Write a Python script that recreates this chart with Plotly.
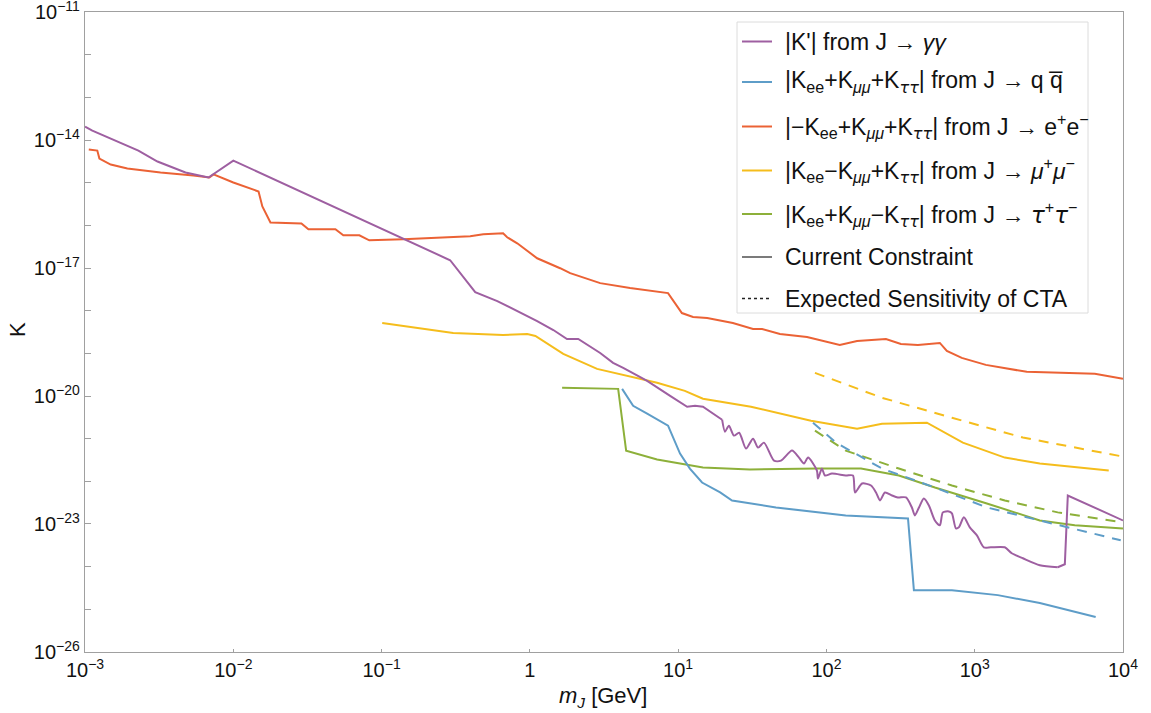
import plotly.graph_objects as go

# ---------------- data ----------------
# |K'| from J -> gamma gamma (current constraint)
gg_m = [1.0e-3, 1.12e-3, 2.29e-3, 3.08e-3, 4.76e-3, 6.80e-3, 1.0e-2, 0.290, 0.428, 0.603,
        1.12, 1.44, 1.78, 2.12, 2.98, 3.64, 4.26, 6.18, 8.83, 11.5, 13.0, 14.7, 19.8, 20.7,
        22.0, 23.8, 25.8, 28.7, 32.0, 34.6, 37.9, 44.3, 49.4, 58.6, 65.3, 70.6, 75.2, 86.3,
        87.7, 93.3, 97.8, 109, 135, 151, 156, 174, 200, 216, 230, 248, 277, 303, 344, 377,
        395, 421, 454, 491, 539, 582, 610, 670, 702, 747, 782, 845, 927, 1035, 1153, 1285,
        1596, 1778, 2113, 2748, 3631, 4055, 4246, 1.0e4]
gg_K = [2.06e-14, 1.66e-14, 5.65e-15, 3.13e-15, 1.73e-15, 1.32e-15, 3.30e-15, 1.52e-17, 2.72e-18, 1.68e-18,
        5.71e-19, 3.52e-19, 2.17e-19, 2.17e-19, 1.02e-19, 5.97e-20, 4.56e-20, 2.27e-20, 1.01e-20, 5.60e-21,
        5.90e-21, 5.60e-21, 2.78e-21, 1.46e-21, 2.01e-21, 1.18e-21, 1.38e-21, 5.85e-22, 1.0e-21, 6.17e-22,
        8.07e-22, 3.06e-22, 3.06e-22, 5.25e-22, 3.60e-22, 2.61e-22, 3.60e-22, 1.79e-22, 1.16e-22, 1.99e-22,
        1.37e-22, 1.52e-22, 1.37e-22, 1.37e-22, 5.48e-23, 8.89e-23, 7.98e-23, 5.48e-23, 3.56e-23, 5.48e-23,
        4.66e-23, 4.19e-23, 4.19e-23, 2.44e-23, 1.59e-23, 2.44e-23, 3.96e-23, 2.72e-23, 1.21e-23, 9.29e-24,
        1.87e-23, 1.97e-23, 1.77e-23, 7.89e-24, 8.33e-24, 1.43e-23, 8.33e-24, 5.42e-24, 2.84e-24, 2.84e-24,
        2.84e-24, 2.06e-24, 1.57e-24, 1.08e-24, 9.69e-25, 1.14e-24, 4.66e-23, 1.21e-23]

# |Kee+Kmumu+Ktautau| from J -> q qbar
qq_m = [4.19, 4.97, 6.18, 8.55, 10.3, 12.0, 14.5, 19.2, 23.1, 45.7, 135, 355, 389, 702, 1432, 2748, 6546]
qq_K = [1.47e-20, 5.90e-21, 3.84e-21, 2.01e-21, 4.47e-22, 1.99e-22, 9.37e-23, 5.48e-23, 3.56e-23,
        2.44e-23, 1.59e-23, 1.35e-23, 2.81e-25, 2.81e-25, 2.15e-25, 1.40e-25, 6.58e-26]
qq_cta_m = [81.2, 116, 237, 539, 1208, 2748, 9660]
qq_cta_K = [2.37e-21, 8.07e-22, 1.99e-22, 7.16e-23, 2.44e-23, 1.21e-23, 4.14e-24]

# |-Kee+Kmumu+Ktautau| from J -> e+ e-
ee_m = [1.06e-3, 1.21e-3, 1.25e-3, 1.49e-3, 1.93e-3, 3.23e-3, 5.38e-3, 6.90e-3, 7.35e-3, 1.0e-2,
        1.48e-2, 1.57e-2, 1.78e-2, 2.88e-2, 3.21e-2, 4.88e-2, 5.52e-2, 7.08e-2, 8.26e-2, 0.140,
        0.396, 0.485, 0.660, 0.703, 0.822, 1.12, 1.60, 1.87, 2.98, 4.74, 8.55, 10.6, 12.6, 15.7,
        23.4, 32.0, 36.8, 48.6, 74.0, 94.8, 123, 161, 206, 252, 318, 414, 582, 649, 818, 1189,
        2244, 3412, 6457, 1.0e4]
ee_K = [5.97e-15, 5.65e-15, 3.68e-15, 2.66e-15, 2.15e-15, 1.73e-15, 1.47e-15, 1.32e-15, 1.56e-15, 1.01e-15,
        6.22e-16, 2.78e-16, 1.17e-16, 1.11e-16, 8.07e-17, 8.07e-17, 5.84e-17, 5.84e-17, 4.46e-17, 4.71e-17,
        5.53e-17, 6.17e-17, 6.50e-17, 5.25e-17, 3.80e-17, 1.69e-17, 9.89e-18, 7.56e-18, 4.42e-18, 3.38e-18,
        2.58e-18, 8.79e-19, 7.09e-19, 6.72e-19, 5.13e-19, 3.72e-19, 3.72e-19, 2.84e-19, 2.42e-19, 1.95e-19,
        1.57e-19, 1.95e-19, 2.06e-19, 2.17e-19, 1.66e-19, 1.57e-19, 1.75e-19, 1.14e-19, 7.82e-20, 5.36e-20,
        3.68e-20, 3.48e-20, 3.30e-20, 2.52e-20]

# |Kee-Kmumu+Ktautau| from J -> mu+ mu-
mm_m = [0.101, 0.140, 0.304, 0.660, 0.96, 1.09, 1.68, 2.84, 4.74, 7.21, 11.1, 14.7, 31.0, 78.7,
        161, 237, 476, 832, 1596, 2748, 8017]
mm_K = [5.13e-19, 4.37e-19, 3.00e-19, 2.69e-19, 2.84e-19, 2.55e-19, 9.68e-20, 4.32e-20, 2.81e-20,
        2.04e-20, 1.32e-20, 8.61e-21, 5.60e-21, 2.64e-21, 1.71e-21, 2.24e-21, 2.37e-21, 8.07e-22,
        3.60e-22, 2.61e-22, 1.79e-22]
mm_cta_m = [83.7, 237, 702, 2113, 1.0e4]
mm_cta_K = [3.48e-20, 9.08e-21, 3.10e-21, 1.06e-21, 3.80e-22]

# |Kee+Kmumu-Ktautau| from J -> tau+ tau-
tt_m = [1.65, 3.94, 4.46, 7.21, 14.7, 30.5, 87.7, 171, 308, 539, 1208, 2748, 4732, 1.0e4]
tt_K = [1.56e-20, 1.47e-20, 5.25e-22, 3.24e-22, 2.10e-22, 1.89e-22, 1.99e-22, 1.99e-22, 1.37e-22,
        7.16e-23, 3.03e-23, 1.21e-23, 9.29e-24, 7.89e-24]
tt_cta_m = [83.7, 135, 308, 702, 1596, 3631, 1.0e4]
tt_cta_K = [1.54e-21, 5.25e-22, 1.99e-22, 7.98e-23, 3.56e-23, 1.87e-23, 1.09e-23]

x_tickvals = [1e-3, 1e-2, 1e-1, 1, 1e1, 1e2, 1e3, 1e4]
x_ticktext = ["10<sup>\u22123</sup>", "10<sup>\u22122</sup>", "10<sup>\u22121</sup>", "1",
              "10<sup>1</sup>", "10<sup>2</sup>", "10<sup>3</sup>", "10<sup>4</sup>"]
y_tickvals = [1e-26, 1e-23, 1e-20, 1e-17, 1e-14, 1e-11]
y_ticktext = ["10<sup>\u221226</sup>", "10<sup>\u221223</sup>", "10<sup>\u221220</sup>",
              "10<sup>\u221217</sup>", "10<sup>\u221214</sup>", "10<sup>\u221211</sup>"]
y_minorvals = [1e-25, 1e-24, 1e-22, 1e-21, 1e-19, 1e-18, 1e-16, 1e-15, 1e-13, 1e-12]

TAU = "<span style=\"font-family:'DejaVu Sans'\"><i>\u03c4\u03c4</i></span>"
TAU1 = "<span style=\"font-family:'DejaVu Sans'\"><i>\u03c4</i></span>"
legend_labels = [
    "|K'| from J \u2192 <i>\u03b3\u03b3</i>",
    "|K<sub>ee</sub>+K<sub><i>\u03bc\u03bc</i></sub>+K<sub>" + TAU + "</sub>| from J \u2192 q q\u0305",
    "|\u2212K<sub>ee</sub>+K<sub><i>\u03bc\u03bc</i></sub>+K<sub>" + TAU + "</sub>| from J \u2192 e<sup>+</sup>e<sup>\u2212</sup>",
    "|K<sub>ee</sub>\u2212K<sub><i>\u03bc\u03bc</i></sub>+K<sub>" + TAU + "</sub>| from J \u2192 <i>\u03bc</i><sup>+</sup><i>\u03bc</i><sup>\u2212</sup>",
    "|K<sub>ee</sub>+K<sub><i>\u03bc\u03bc</i></sub>\u2212K<sub>" + TAU + "</sub>| from J \u2192 " + TAU1 + "<sup>+</sup>" + TAU1 + "<sup>\u2212</sup>",
    "Current Constraint",
    "Expected Sensitivity of CTA",
]

# ---------------- styles ----------------
PURPLE = "#9E5FA1"
BLUE = "#5E9DC8"
RED = "#EB6235"
YELLOW = "#F5BD1C"
GREEN = "#8DB03A"
FONT = "Liberation Sans, Arial, sans-serif"
AXC = "#a0a0a0"

W, H = 1151, 713
L, R, T, B = 85, 28, 12, 61
PW, PH = W - L - R, H - T - B


def px(xp):
    return (xp - L) / PW


def py(yp):
    return (H - B - yp) / PH


fig = go.Figure()


def add(m, k, color, dash=None, shape="linear"):
    line = dict(color=color, width=2, shape=shape)
    if shape == "spline":
        line["smoothing"] = 0.7
    if dash:
        line["dash"] = dash
    fig.add_trace(go.Scatter(x=m, y=k, mode="lines", line=line, showlegend=False,
                             hoverinfo="skip"))


add(ee_m, ee_K, RED)
add(mm_m, mm_K, YELLOW)
add(tt_m, tt_K, GREEN)
add(qq_m, qq_K, BLUE)
# the photon curve: straight segments, a smooth oscillating middle part, straight tail
i0 = gg_m.index(19.8)
i1 = gg_m.index(3631)
add(gg_m[:i0 + 1], gg_K[:i0 + 1], PURPLE)
add(gg_m[i0:i1 + 1], gg_K[i0:i1 + 1], PURPLE, shape="spline")
add(gg_m[i1:], gg_K[i1:], PURPLE)
add(mm_cta_m, mm_cta_K, YELLOW, "10px,8px")
add(tt_cta_m, tt_cta_K, GREEN, "10px,8px")
add(qq_cta_m, qq_cta_K, BLUE, "10px,8px")

fig.update_xaxes(type="log", range=[-3.0002, 4.0002], tickvals=x_tickvals, ticktext=x_ticktext,
                 ticks="inside", ticklen=3, tickcolor=AXC, showline=True, linecolor=AXC,
                 linewidth=1.3, mirror=True, showgrid=False, zeroline=False,
                 ticklabeloverflow="allow",
                 tickfont=dict(family=FONT, size=20, color="#111"))
fig.update_yaxes(type="log", range=[-26.0005, -10.9995], tickvals=y_tickvals, ticktext=y_ticktext,
                 ticks="inside", ticklen=6, tickcolor=AXC, showline=True, linecolor=AXC,
                 linewidth=1.3, mirror=True, showgrid=False, zeroline=False,
                 ticklabeloverflow="allow",
                 minor=dict(tickmode="array", tickvals=y_minorvals, ticks="inside", ticklen=6,
                            tickcolor=AXC, showgrid=False),
                 tickfont=dict(family=FONT, size=20, color="#111"))

shapes = []
annotations = []
# legend box
shapes.append(dict(type="rect", xref="paper", yref="paper", x0=px(737), x1=px(1088),
                   y0=py(313), y1=py(22), line=dict(color="#dcdcdc", width=1),
                   fillcolor="white", layer="above"))
row_y = [41.5, 82, 126.5, 170.5, 214, 257, 298.5]
row_colors = [PURPLE, BLUE, RED, YELLOW, GREEN, "#333333", "#222222"]
for i, (lab, yy, col) in enumerate(zip(legend_labels, row_y, row_colors)):
    ln = dict(color=col, width=2)
    if i == 5:
        ln["width"] = 1.3
    if i == 6:
        ln["width"] = 1.3
        ln["dash"] = "dot"
    shapes.append(dict(type="line", xref="paper", yref="paper", x0=px(742), x1=px(772),
                       y0=py(yy), y1=py(yy), line=ln, layer="above"))
    annotations.append(dict(xref="paper", yref="paper", x=px(783), y=py(yy), text=lab,
                            showarrow=False, xanchor="left", yanchor="middle",
                            font=dict(family=FONT, size=23, color="#111")))

annotations.append(dict(xref="paper", yref="paper", x=px(17), y=py(330), text="K",
                        showarrow=False, textangle=-90, xanchor="center", yanchor="middle",
                        font=dict(family=FONT, size=22, color="#111")))
annotations.append(dict(xref="paper", yref="paper", x=px(603), y=py(697),
                        text="<i>m</i><sub><i>J</i></sub> [GeV]",
                        showarrow=False, xanchor="center", yanchor="middle",
                        font=dict(family=FONT, size=22, color="#111")))

fig.update_layout(width=W, height=H, margin=dict(l=L, r=R, t=T, b=B, autoexpand=False),
                  paper_bgcolor="white", plot_bgcolor="white", showlegend=False,
                  shapes=shapes, annotations=annotations)

fig.write_html("out.html")
